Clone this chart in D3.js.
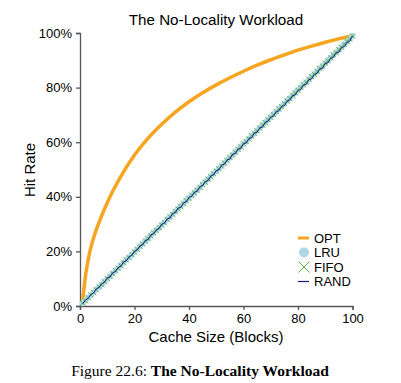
<!DOCTYPE html>
<html>
<head>
<meta charset="utf-8">
<script src="https://cdn.jsdelivr.net/npm/d3@7"></script>
<style>
  body { margin: 0; background: #fff; }
  svg { display: block; }
</style>
</head>
<body>
<svg id="svg0" width="401" height="383"></svg>
<script>
// cache sizes for the noisy policies
var sizes = d3.range(1, 101);

var optSizes = [1, 2, 3, 4, 5, 6, 8, 10, 12, 15, 20, 25, 30, 35, 40, 45, 50, 55, 60, 65, 70, 75, 80, 85, 90, 95, 100];
var optHits = [2, 11, 17, 21.5, 25, 28, 33.2, 37.8, 42, 47.5, 55.3, 61.5, 66.6, 71, 74.8, 78.1, 81, 83.6, 86, 88.2, 90.2, 92, 93.7, 95.2, 96.6, 97.9, 99];

var lruHits = [1.0,2.0,3.1,3.9,5.0,6.1,7.0,7.9,9.0,9.9,10.9,12.0,12.8,13.9,15.0,15.8,16.9,17.9,18.7,19.9,
  20.9,21.8,22.9,23.7,24.8,25.9,26.7,27.8,28.6,29.8,30.7,31.8,32.6,33.7,34.6,35.7,36.6,37.5,38.7,39.6,
  40.5,41.6,42.6,43.4,44.6,45.5,46.4,47.6,48.5,49.4,50.5,51.4,52.4,53.5,54.3,55.4,56.4,57.3,58.5,59.3,
  60.3,61.4,62.3,63.2,64.4,65.3,66.2,67.3,68.2,69.2,70.3,71.1,72.2,73.2,74.1,75.2,76.1,77.0,78.2,79.1,
  80.0,81.1,82.0,83.0,84.1,85.0,85.9,87.1,87.9,88.9,90.0,90.9,91.9,92.9,93.8,94.9,95.9,96.8,97.9,98.9];

var fifoHits = [1.1,1.9,3.0,4.1,4.9,5.9,7.1,7.8,8.9,10.1,10.8,11.8,13.0,13.8,14.7,15.9,16.8,17.7,18.9,19.7,
  20.7,21.9,22.7,23.8,24.7,25.6,26.8,27.6,28.8,29.6,30.5,31.7,32.7,33.5,34.7,35.5,36.4,37.6,38.5,39.4,
  40.6,41.4,42.3,43.5,44.4,45.3,46.5,47.3,48.4,49.5,50.3,51.2,52.4,53.3,54.4,55.2,56.3,57.4,58.2,59.4,
  60.2,61.1,62.4,63.3,64.1,65.2,66.3,67.1,68.3,69.1,70.1,71.2,72.2,73.0,74.2,75.1,76.0,77.2,78.0,79.0,
  80.1,81.0,81.9,83.1,84.0,84.9,86.0,87.0,87.9,89.0,89.8,90.9,92.0,92.8,93.9,94.8,95.9,96.9,97.8,98.9];

var randHits = [0.9,2.2,2.8,4.2,4.8,6.3,6.8,8.2,8.7,10.3,10.6,12.2,12.6,14.1,14.6,16.2,16.5,18.1,18.5,20.1,
  20.5,22.0,22.4,24.0,24.3,26.1,26.4,27.9,28.3,30.0,30.3,31.9,32.2,33.9,34.2,35.9,36.1,37.8,38.1,39.8,
  40.2,41.7,42.0,43.7,44.1,45.6,45.9,47.7,48.0,49.6,49.9,51.6,51.9,53.5,53.8,55.6,55.8,57.5,57.7,59.5,
  59.7,61.4,61.6,63.4,63.6,65.3,65.5,67.3,67.6,69.2,69.5,71.1,71.5,73.1,73.4,75.0,75.4,77.0,77.3,78.9,
  79.3,80.9,81.2,82.9,83.2,84.8,85.2,86.8,87.1,88.8,89.1,90.7,91.1,92.7,93.0,94.7,95.0,96.6,97.0,98.9];

var xTicks = [0, 20, 40, 60, 80, 100];
var yTicks = [0, 20, 40, 60, 80, 100];
var legendNames = ['OPT', 'LRU', 'FIFO', 'RAND'];

var marginLeft = 80, plotRight = 352.5, marginTop = 33, plotBottom = 306;

var x = d3.scaleLinear().domain([0, 100]).range([marginLeft, plotRight]);
var y = d3.scaleLinear().domain([0, 100]).range([plotBottom, marginTop]);

var svg = d3.select('#svg0');
var font = '"Liberation Sans", Arial, sans-serif';

// title
svg.append('text')
    .attr('x', 216).attr('y', 25)
    .attr('text-anchor', 'middle')
    .attr('font-family', font).attr('font-size', 15.2)
    .text('The No-Locality Workload');

// axes
var gx = svg.append('g')
    .attr('transform', 'translate(0,' + plotBottom + ')')
    .call(d3.axisBottom(x).tickValues(xTicks).tickSizeOuter(0).tickSize(4).tickPadding(4));
var gy = svg.append('g')
    .attr('transform', 'translate(' + marginLeft + ',0)')
    .call(d3.axisLeft(y).tickValues(yTicks).tickSizeOuter(0).tickSize(4).tickPadding(4)
        .tickFormat(function(d){ return d + '%'; }));

[gx, gy].forEach(function(g){
    g.selectAll('path, line').attr('stroke', '#555').attr('stroke-width', 1.3);
    g.selectAll('text').attr('font-family', font).attr('font-size', 13).attr('fill', '#000');
});

svg.append('text')
    .attr('x', 216).attr('y', 342)
    .attr('text-anchor', 'middle')
    .attr('font-family', font).attr('font-size', 15)
    .text('Cache Size (Blocks)');

svg.append('text')
    .attr('transform', 'translate(35,170) rotate(-90)')
    .attr('text-anchor', 'middle')
    .attr('font-family', font).attr('font-size', 15)
    .text('Hit Rate');

// OPT
svg.append('path')
    .datum(optSizes)
    .attr('fill', 'none')
    .attr('stroke', '#f7a521')
    .attr('stroke-width', 3.5)
    .attr('d', d3.line()
        .x(function(d){ return x(d); })
        .y(function(d, i){ return y(optHits[i]); })
        .curve(d3.curveMonotoneX));

// LRU
svg.append('g').selectAll('circle')
    .data(sizes)
    .enter()
    .append('circle')
    .attr('cx', function(d){ return x(d); })
    .attr('cy', function(d, i){ return y(lruHits[i]); })
    .attr('r', 3)
    .attr('fill', '#add8e6');

// FIFO
svg.append('g').selectAll('path')
    .data(sizes)
    .enter()
    .append('path')
    .attr('d', function(d, i){
        var cx = x(d), cy = y(fifoHits[i]), s = 2.6;
        return 'M' + (cx - s) + ',' + (cy - s) + 'L' + (cx + s) + ',' + (cy + s) +
               'M' + (cx - s) + ',' + (cy + s) + 'L' + (cx + s) + ',' + (cy - s);
    })
    .attr('stroke', '#5cb048')
    .attr('stroke-width', 0.9)
    .attr('fill', 'none');

// RAND
svg.append('path')
    .datum(sizes)
    .attr('fill', 'none')
    .attr('stroke', '#1a1a8c')
    .attr('stroke-width', 1)
    .attr('d', d3.line()
        .x(function(d){ return x(d); })
        .y(function(d, i){ return y(randHits[i]); }));

// legend
var lg = svg.append('g').attr('transform', 'translate(304,238)');
var rowH = 14.5;
lg.append('line').attr('x1', -6).attr('x2', 5).attr('y1', 0).attr('y2', 0)
    .attr('stroke', '#f7a521').attr('stroke-width', 3);
lg.append('circle').attr('cx', 0).attr('cy', rowH).attr('r', 5).attr('fill', '#add8e6');
lg.append('path')
    .attr('d', 'M-5.5,' + (2 * rowH - 5.5) + 'L5.5,' + (2 * rowH + 5.5) + 'M-5.5,' + (2 * rowH + 5.5) + 'L5.5,' + (2 * rowH - 5.5))
    .attr('stroke', '#5cb048').attr('stroke-width', 1);
lg.append('line').attr('x1', -6).attr('x2', 5).attr('y1', 3 * rowH).attr('y2', 3 * rowH)
    .attr('stroke', '#1a1a8c').attr('stroke-width', 1.2);
lg.selectAll('text')
    .data(legendNames)
    .enter()
    .append('text')
    .attr('x', 10)
    .attr('y', function(d, i){ return i * rowH; })
    .attr('dy', '0.36em')
    .attr('font-family', font).attr('font-size', 13)
    .text(function(d){ return d; });

// caption
var cap = svg.append('text')
    .attr('x', 200).attr('y', 376)
    .attr('text-anchor', 'middle')
    .attr('font-family', '"Liberation Serif", "Times New Roman", serif')
    .attr('font-size', 15.5);
cap.append('tspan').text('Figure 22.6: ');
cap.append('tspan').attr('font-weight', 'bold').text('The No-Locality Workload');
</script>
</body>
</html>
